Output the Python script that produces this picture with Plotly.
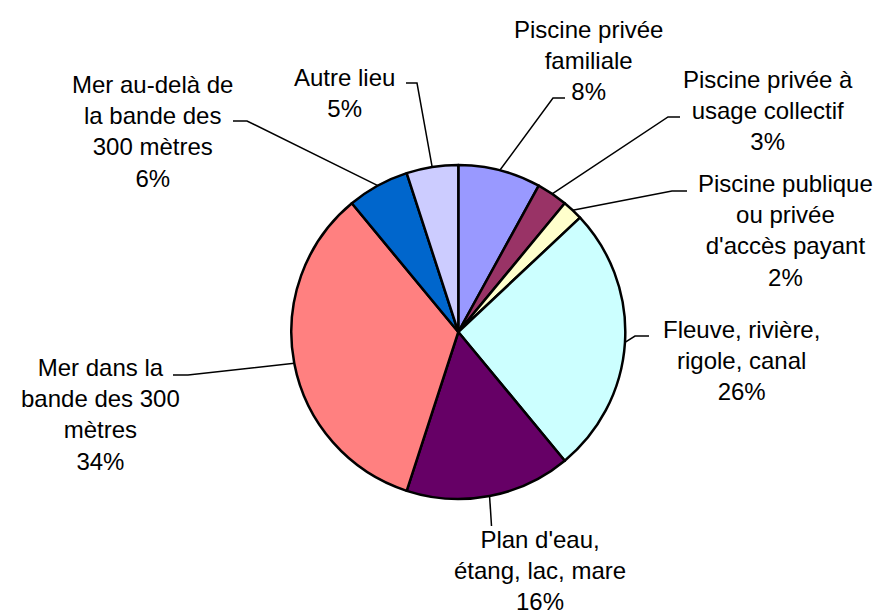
import math
import plotly.graph_objects as go

labels = [
    "Piscine privée<br>familiale",
    "Piscine privée à<br>usage collectif",
    "Piscine publique<br>ou privée<br>d'accès payant",
    "Fleuve, rivière,<br>rigole, canal",
    "Plan d'eau,<br>étang, lac, mare",
    "Mer dans la<br>bande des 300<br>mètres",
    "Mer au-delà de<br>la bande des<br>300 mètres",
    "Autre lieu",
]
values = [8, 3, 2, 26, 16, 34, 6, 5]
colors = ["#9999FF", "#993366", "#FFFFCC", "#CCFFFF", "#660066", "#FF8080", "#0066CC", "#CCCCFF"]

# label layout (pixel space): text centre, leader elbow, leader end
label_pos = [(588, 60), (768, 110), (785, 230), (741, 360), (540, 570), (100, 414), (152, 131), (344, 93)]
elbows = [(553, 98), (668, 117), (672, 191), (635, 336), (491.5, 526), (188, 375), (247, 121), (417, 83)]
ends = [(565, 98), (680, 117), (687, 191), (649, 336), (491.5, 526), (173, 375), (233, 121), (406, 83)]

W, H = 884, 615
cx, cy, r = 458.3, 332, 167

fig = go.Figure()
fig.add_trace(go.Pie(
    labels=[l.replace("<br>", " ") for l in labels], values=values, sort=False,
    direction="clockwise", rotation=0, textinfo="none", hoverinfo="label+percent",
    marker=dict(colors=colors, line=dict(color="black", width=2.5)),
    domain=dict(x=[(cx - r) / W, (cx + r) / W], y=[(H - cy - r) / H, (H - cy + r) / H]),
    showlegend=False,
))

total = sum(values)
cum = 0
lx, ly = [], []
annotations = []
for i, v in enumerate(values):
    mid = (cum + v / 2) / total * 2 * math.pi
    cum += v
    ex, ey = cx + r * math.sin(mid), cy - r * math.cos(mid)
    lx += [ex, elbows[i][0], ends[i][0], None]
    ly += [ey, elbows[i][1], ends[i][1], None]
    pct = round(v / total * 100)
    annotations.append(dict(
        x=label_pos[i][0], y=label_pos[i][1], xref="x", yref="y",
        text=f"{labels[i]}<br>{pct}%", showarrow=False, align="center",
        xanchor="center", yanchor="middle",
        font=dict(family="Liberation Sans, Arial, sans-serif", size=24, color="black"),
    ))

fig.add_trace(go.Scatter(x=lx, y=ly, mode="lines", line=dict(color="black", width=1.5),
                         hoverinfo="skip", showlegend=False))

fig.update_layout(
    width=W, height=H, margin=dict(l=0, r=0, t=0, b=0),
    paper_bgcolor="white", plot_bgcolor="rgba(0,0,0,0)",
    xaxis=dict(range=[0, W], visible=False, domain=[0, 1], fixedrange=True),
    yaxis=dict(range=[H, 0], visible=False, domain=[0, 1], fixedrange=True),
    annotations=annotations,
)
fig.write_html("out.html", config={"displayModeBar": False},
               post_script="document.body.style.margin='0';document.body.style.overflow='hidden';")
